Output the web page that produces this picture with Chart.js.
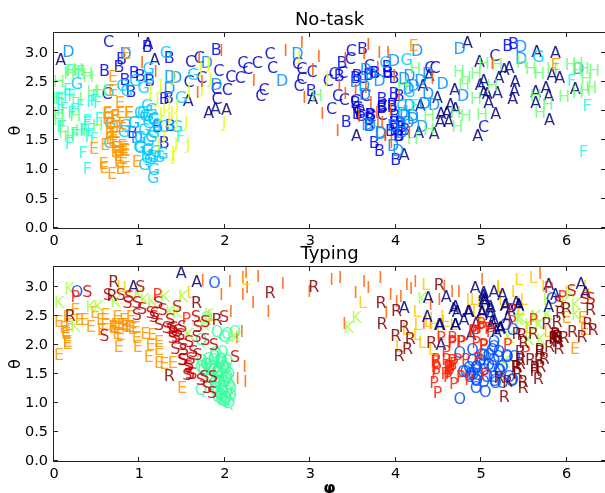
<!DOCTYPE html>
<html lang="en">
<head>
  <meta charset="UTF-8">
  <title>No-task / Typing</title>
  <script src="https://cdn.jsdelivr.net/npm/chart.js"></script>
  <style>
    html, body { margin: 0; padding: 0; background: #ffffff; overflow: hidden; }
    canvas { position: absolute; left: 0; }
    #noTaskChart { top: 0; }
    #typingChart { top: 240px; }
  </style>
</head>
<body>
<canvas id="noTaskChart" width="605" height="246"></canvas>
<canvas id="typingChart" width="605" height="258"></canvas>

<script>
  // tick labels
  const xTicks = [0, 1, 2, 3, 4, 5, 6];
  const yTicks = [0, 0.5, 1, 1.5, 2, 2.5, 3];

  // No-task: [phi, theta] per letter
  const noTaskA = [[.08,2.86],[1.10,3.14],[1.18,2.86],[1.57,2.16],[1.81,1.95],[1.89,2.03],[2.02,2.0],[3.03,2.2],[3.54,1.56],[4.1,1.23],[4.27,1.62],[4.45,1.59],[4.29,2.08],[4.32,2.41],[4.49,2.21],[4.53,1.93],[4.52,1.8],[4.6,1.96],[4.62,1.8],[4.64,2.1],[4.69,2.35],[4.7,2.02],[4.84,3.16],[4.96,1.56],[4.98,2.83],[4.99,2.43],[5.03,2.5],[5.03,2.3],[5.07,2.28],[5.09,2.12],[5.19,2.3],[5.17,1.93],[5.21,2.56],[5.27,2.69],[5.33,2.72],[5.37,2.19],[5.39,2.33],[5.4,2.48],[5.64,2.32],[5.64,2.12],[5.65,3.0],[5.76,2.39],[5.79,2.25],[5.8,1.84],[5.83,2.6],[5.87,2.98],[5.92,2.55],[6.1,2.36],[4.39,2.59]];
  const noTaskB = [[.59,2.68],[.76,2.75],[.79,2.88],[.83,2.52],[.9,2.31],[.94,2.64],[1.01,2.59],[1.12,2.51],[1.09,3.09],[1.35,2.89],[1.9,3.04],[1.34,2.22],[1.29,2.19],[1.36,1.74],[1.29,1.45],[1.21,1.71],[.92,1.62],[3.61,3.06],[3.37,2.82],[3.01,2.33],[3.42,1.8],[3.75,1.45],[3.81,1.3],[4.0,1.15],[3.53,2.56],[3.34,2.59],[3.75,2.64],[3.9,2.65],[3.98,2.56],[3.98,2.28],[3.84,2.2],[3.53,2.13],[3.55,1.93],[3.69,1.85],[3.69,1.74],[3.84,2.05],[3.96,2.05],[3.94,1.65],[4.04,1.56],[3.98,1.79],[4.07,1.71],[5.31,3.1],[5.38,3.14],[4.04,2.25],[3.9,2.74],[3.71,1.92],[3.99,1.9],[4.05,1.78],[3.99,1.66],[4.03,1.56],[4.11,1.66],[3.55,2.59],[3.68,2.6],[3.76,2.64],[3.91,2.64],[3.59,1.95],[3.7,1.92],[3.84,2.04],[3.96,2.09]];
  const noTaskC = [[.64,3.17],[1.6,2.83],[1.58,2.48],[1.7,2.9],[1.73,2.55],[1.93,2.68],[1.9,2.36],[2.03,2.35],[1.91,2.19],[2.07,2.57],[2.18,2.56],[2.21,2.82],[2.27,2.71],[2.38,2.82],[2.53,2.97],[2.56,2.72],[2.46,2.35],[2.42,2.25],[.62,2.28],[2.85,2.79],[2.87,2.42],[2.9,2.71],[2.9,2.53],[3.02,2.66],[3.21,2.51],[3.28,2.62],[3.38,2.64],[3.32,2.25],[3.4,2.18],[3.25,2.02],[3.48,3.02],[3.47,2.88],[3.69,2.76],[3.61,2.56],[3.65,2.25],[3.53,2.16],[3.57,1.99],[3.71,1.88],[3.84,2.08],[4.4,2.73],[4.46,2.73],[5.16,2.93],[5.03,1.72],[3.55,2.04],[3.59,1.9],[3.84,1.92]];
  const noTaskD = [[.17,3.0],[.84,2.96],[1.36,2.58],[1.43,2.56],[1.35,2.36],[1.79,2.81],[1.9,2.43],[2.67,2.51],[2.85,2.96],[.97,1.53],[4.25,3.02],[4.75,3.06],[5.47,3.08],[5.47,2.88],[6.14,2.71],[3.98,2.85],[3.65,2.69],[3.71,2.62],[3.81,2.51],[3.53,2.48],[3.63,2.41],[4.16,2.59],[4.1,2.53],[4.21,2.41],[4.29,2.51],[4.38,2.62],[4.55,2.45],[4.38,2.28],[4.34,2.11],[4.45,2.09],[4.79,2.24],[4.31,1.71],[3.83,1.59],[4.2,1.85],[4.03,1.31],[4.16,2.08],[4.08,1.93],[4.15,2.36],[4.15,1.78],[4.2,1.9],[4.11,1.9],[4.07,1.61],[3.97,1.73],[3.7,1.73],[3.82,1.61],[3.97,1.39],[3.67,1.75],[3.64,2.26]];
  const noTaskE = [[.69,2.58],[.85,2.96],[.69,2.33],[.77,2.13],[.62,1.93],[.72,1.91],[.88,1.96],[.66,1.76],[.72,1.62],[.66,1.51],[.6,1.4],[.72,1.28],[.8,1.39],[.84,1.31],[.58,1.08],[.68,.91],[.78,.99],[.84,1.02],[.97,1.11],[.47,1.34],[.76,1.11],[.59,1.02],[.8,1.76],[.62,1.85],[.72,1.45],[.76,1.22],[4.21,3.1],[5.87,2.77],[.63,1.95],[.71,1.89],[.69,1.69],[.77,1.72],[.65,1.61],[.71,1.61],[.73,1.35],[.81,1.35],[.83,1.32],[.75,1.27],[.81,1.16],[.88,1.95],[.78,1.95],[.69,1.47]];
  const noTaskF = [[.39,.99],[.34,1.27],[.18,1.43],[.1,1.72],[.08,1.99],[.06,2.19],[.21,1.96],[.16,2.35],[.31,2.08],[.35,1.65],[.25,1.56],[.41,1.54],[.47,2.16],[.21,2.25],[.18,2.68],[.31,2.65],[1.48,1.54],[.47,1.51],[.12,2.02],[.39,1.82],[.53,1.85],[6.24,2.08],[6.2,1.28],[6.06,2.51],[4.22,2.07],[.08,1.72],[.24,1.6],[.35,1.66],[.43,1.66],[.49,2.24],[.39,1.78],[.08,2.18],[.16,2.24],[.24,2.01],[.43,2.15],[.51,2.12]];
  const noTaskG = [[1.31,2.98],[.27,2.45],[.64,2.33],[.8,2.41],[.85,2.33],[1.11,2.71],[1.11,2.53],[.95,2.51],[1.05,2.39],[1.49,2.21],[1.63,2.6],[1.01,1.96],[1.09,2.08],[1.07,1.91],[.66,1.76],[.84,1.74],[.82,1.63],[.94,1.79],[1.11,1.79],[1.17,1.85],[1.21,1.74],[1.01,1.53],[1.11,1.48],[.65,1.44],[1.01,1.36],[1.09,1.31],[1.19,1.28],[1.13,1.16],[1.06,1.06],[1.17,.98],[1.16,.84],[1.29,1.71],[1.44,1.72],[1.27,1.25],[1.09,1.18],[1.17,1.62],[4.13,2.87],[3.88,2.82],[5.67,2.92],[4.16,2.31],[4.08,2.08],[1.04,1.95],[1.1,1.9],[1.16,1.84],[1.06,1.66],[1.14,1.55],[1.1,1.32],[1.16,1.21],[1.23,1.21],[1.0,1.38],[.94,1.78],[1.14,2.01]];
  const noTaskH = [[.21,2.68],[.29,2.68],[.06,2.48],[.4,2.58],[.05,2.19],[.06,1.93],[.25,1.91],[.31,1.65],[.12,1.62],[.27,2.19],[.51,1.74],[.55,2.33],[.45,2.31],[4.23,2.71],[4.74,2.66],[4.82,2.56],[4.94,2.62],[5.03,2.79],[5.19,2.77],[4.8,2.43],[4.94,2.19],[4.82,1.91],[4.72,1.71],[5.01,1.92],[5.13,2.42],[5.48,2.82],[5.58,2.71],[5.68,2.62],[5.64,2.25],[5.78,2.09],[5.69,1.96],[5.97,2.23],[5.83,2.71],[6.05,2.77],[6.13,2.79],[6.13,2.68],[6.2,2.71],[6.32,2.68],[6.23,2.53],[6.29,2.39],[6.22,2.33],[6.13,2.29],[4.39,1.91],[4.39,1.67],[4.2,1.51],[3.08,2.25],[4.08,2.42],[4.7,1.96],[.18,2.63],[.28,2.69],[.39,2.63],[.06,1.84],[.18,1.55]];
  const noTaskI = [[1.03,2.81],[1.96,3.02],[1.73,2.48],[1.68,2.29],[2.34,2.51],[2.71,3.02],[2.9,3.16],[1.19,2.65],[1.7,2.9],[3.1,2.92],[3.03,2.7],[2.93,2.22],[3.14,1.93],[3.32,1.65],[3.34,2.42],[3.41,2.88],[3.63,2.96],[3.68,3.12],[3.81,2.98],[3.91,2.98],[3.79,2.73],[3.53,2.33],[3.71,2.13],[3.57,1.88],[3.79,1.79],[3.88,1.56],[3.95,1.45],[4.04,2.25],[3.98,2.59],[3.41,2.28],[3.65,2.39],[4.43,2.53],[5.13,2.79],[4.16,1.62],[3.78,1.95],[3.84,1.78],[3.94,2.0],[3.88,1.56]];
  const noTaskJ = [[1.99,1.78],[1.55,1.78],[1.57,1.4],[1.43,1.42],[1.4,1.22],[1.44,1.82],[1.35,2.13],[1.29,2.02],[1.38,1.96],[1.25,2.42],[1.21,2.19],[1.13,2.31],[1.25,1.93],[1.4,2.58],[1.81,2.79],[1.83,2.53],[1.72,2.71],[1.58,2.31],[1.35,1.85],[1.44,2.08],[1.23,1.45],[1.29,1.56],[1.73,2.36],[2.87,2.94],[3.2,2.56],[1.39,1.27]];

  // Typing: [phi, theta] per letter
  const typingA = [[1.49,3.23],[1.67,3.06],[.93,2.98],[4.1,2.62],[4.38,2.79],[4.37,2.47],[4.51,2.33],[4.53,1.98],[4.59,2.81],[4.7,2.64],[4.72,2.55],[4.7,2.33],[4.8,2.41],[4.86,2.55],[4.88,2.15],[4.93,2.96],[5.03,2.87],[5.04,2.78],[5.15,2.9],[5.25,2.85],[5.01,2.53],[5.11,2.64],[5.11,2.5],[5.13,2.38],[5.23,2.27],[5.29,2.67],[5.31,2.44],[5.41,2.7],[5.44,2.67],[5.79,3.02],[5.87,2.84],[5.79,2.64],[6.17,3.04],[6.22,2.87],[4.94,2.35],[5.03,2.72],[4.68,2.6],[4.85,2.55],[5.03,2.83],[5.05,2.72],[5.01,2.55],[5.11,2.58],[5.16,2.37],[5.22,2.26],[5.28,2.66],[5.34,2.58],[5.44,2.66],[4.7,2.32],[4.52,2.32],[5.12,2.29],[5.18,2.2]];
  const typingO = [[.27,2.89],[1.88,3.05],[4.75,1.05],[4.75,1.84],[4.94,1.24],[5.05,1.18],[5.25,1.32],[5.37,1.38],[5.37,2.24],[5.83,2.78],[5.29,2.33],[4.9,1.9],[5.15,1.95],[5.21,1.87],[5.31,1.78],[5.39,1.78],[5.09,1.81],[4.99,1.7],[4.9,1.7],[4.94,1.58],[4.82,1.52],[4.88,1.49],[4.96,1.47],[5.03,1.55],[5.09,1.64],[5.21,1.55],[5.33,1.44],[5.15,1.44],[5.03,1.35],[4.94,1.38],[5.15,1.72],[5.25,1.61],[5.01,1.81],[5.15,2.04],[4.86,1.58],[5.17,1.32],[4.95,1.6],[5.03,1.66],[5.13,1.89],[5.2,1.77],[5.3,1.8],[5.07,1.43],[5.16,1.37],[4.87,1.43],[5.03,1.8],[5.13,1.6],[5.22,1.54],[4.91,1.49],[4.95,1.37],[4.79,1.52],[5.36,1.37]];
  const typingQ = [[1.72,1.21],[1.79,2.44],[1.91,2.2],[2.03,2.18],[2.12,2.2],[2.0,2.12],[1.72,2.07],[1.73,1.7],[1.81,1.75],[1.89,1.84],[1.97,1.87],[1.87,1.72],[1.79,1.64],[1.93,1.67],[2.03,1.7],[2.01,1.58],[1.75,1.55],[1.83,1.55],[1.91,1.52],[1.97,1.47],[2.05,1.49],[1.89,1.35],[1.99,1.35],[2.07,1.24],[1.97,1.24],[1.89,1.24],[2.03,1.18],[1.95,1.12],[2.01,1.07],[2.05,.98],[1.99,1.01],[2.05,1.29],[1.87,1.55],[1.95,1.75],[1.83,1.41],[1.91,1.18],[2.07,1.12],[1.72,1.61],[1.98,1.61],[1.93,1.41],[2.01,1.41],[1.84,1.6],[1.92,1.54],[1.99,1.6],[1.78,1.66],[1.88,1.77],[1.96,1.72],[2.03,1.43],[1.97,1.2],[1.96,1.03],[2.01,1.06],[1.92,1.09],[1.88,1.32],[1.94,1.32]];
  const typingK = [[.06,2.71],[.18,2.94],[.25,2.3],[.43,2.64],[.52,2.64],[.72,2.73],[.99,2.84],[1.06,2.75],[1.15,2.73],[1.3,2.81],[1.51,2.81],[1.36,2.55],[1.44,2.53],[1.58,2.15],[1.76,2.33],[1.81,2.5],[2.12,2.12],[3.45,2.28],[3.54,2.44],[4.31,2.78],[5.28,1.67],[5.33,2.1],[5.46,2.44],[5.64,2.47],[5.68,2.33],[5.56,2.07],[5.7,2.07],[5.78,2.5],[5.78,2.75],[6.03,2.9],[6.11,2.67],[6.11,2.5],[5.99,2.73],[5.56,2.33],[5.44,2.41]];
  const typingL = [[.78,2.98],[.85,2.96],[1.6,2.87],[1.84,2.49],[2.24,3.1],[3.61,2.71],[4.04,1.95],[4.12,2.24],[4.25,2.55],[4.25,2.15],[4.31,2.01],[4.26,2.33],[4.35,3.01],[4.43,1.9],[4.52,2.15],[4.57,2.47],[4.92,2.75],[5.23,2.96],[5.4,2.9],[5.44,3.1],[5.61,3.14],[5.01,2.67],[4.94,2.55],[5.5,2.75],[5.56,2.27],[5.78,2.21],[5.75,2.98],[6.24,2.98],[6.28,2.84],[5.25,2.75],[5.03,1.87],[4.68,2.33],[5.0,2.73],[5.62,2.47],[4.87,2.75],[5.01,2.46],[5.22,2.98],[5.46,2.58],[4.38,2.37],[4.44,2.43],[4.58,2.37]];
  const typingE = [[.06,1.81],[.06,2.38],[.16,2.04],[.18,2.33],[.14,2.2],[.25,2.58],[.3,2.41],[.36,2.41],[.43,2.3],[.48,2.53],[.55,2.41],[.6,2.5],[.6,2.33],[.56,2.24],[.72,2.33],[.74,2.47],[.82,2.41],[.9,2.47],[.89,2.3],[.96,2.27],[.78,2.15],[.76,1.95],[.97,2.1],[.98,1.95],[1.07,2.18],[1.15,2.15],[1.13,1.98],[1.23,2.04],[1.23,1.9],[1.11,1.78],[1.23,1.67],[1.29,1.65],[1.39,1.67],[1.5,1.24],[.74,2.18],[.84,2.3],[.16,2.47],[.12,2.27],[.7,2.27],[6.1,1.91],[6.0,2.44],[6.19,2.44],[6.21,2.24],[.79,2.32],[.84,2.32],[.88,2.29],[.92,2.26],[.75,2.26],[.69,2.29],[.16,2.0],[.14,2.17]];
  const typingI = [[1.74,3.08],[2.06,3.07],[1.96,2.84],[2.07,2.55],[2.25,3.23],[2.21,3.13],[2.39,3.16],[2.26,2.96],[2.21,2.84],[2.33,2.7],[2.51,2.55],[2.68,3.04],[2.2,2.21],[2.23,1.6],[2.15,1.39],[2.24,1.35],[2.14,2.1],[2.99,2.9],[3.25,3.1],[3.35,3.14],[3.53,2.88],[3.63,3.07],[3.68,2.97],[3.82,3.14],[3.94,2.84],[4.01,2.73],[4.06,2.81],[4.13,3.01],[4.18,2.94],[4.23,3.07],[3.89,2.53],[3.4,2.34],[4.33,2.35],[4.41,2.35],[4.41,2.67],[4.51,2.75],[4.66,2.9],[4.74,2.9],[5.01,3.1],[5.69,3.21],[4.57,2.98]];
  const typingP = [[.25,2.81],[1.21,2.84],[1.55,2.43],[4.45,1.32],[4.49,1.15],[4.68,1.31],[4.47,1.72],[4.47,1.61],[4.47,1.49],[4.59,1.72],[4.61,1.58],[4.63,1.49],[4.66,1.7],[4.72,1.72],[4.61,1.44],[4.59,1.87],[4.53,2.1],[4.66,2.01],[4.76,2.04],[4.86,1.38],[4.76,1.44],[4.82,1.72],[4.96,1.75],[5.04,1.47],[4.94,2.18],[5.01,2.27],[5.0,2.35],[5.03,1.98],[4.9,2.2],[5.11,2.21],[4.94,2.01],[5.31,1.98],[5.36,2.58],[5.36,2.38],[5.61,2.41],[5.52,1.87],[5.79,2.96],[5.95,2.81],[4.66,2.1],[4.64,1.61],[4.66,1.55],[4.62,1.6],[4.64,1.54],[4.58,1.49],[4.68,1.66],[4.46,1.69],[4.48,1.57],[4.66,2.03],[4.77,2.03],[4.91,2.23],[4.99,2.26],[5.09,2.26],[5.03,1.97]];
  const typingS = [[.39,2.89],[.59,2.14],[.63,2.84],[.78,2.84],[.88,2.81],[1.01,2.98],[.86,2.7],[.97,2.7],[1.03,2.61],[.97,2.5],[1.13,2.53],[1.17,2.47],[1.22,2.7],[1.27,2.58],[1.23,2.33],[1.32,2.27],[1.36,2.41],[1.4,2.27],[1.39,2.1],[1.44,2.64],[1.5,2.3],[1.48,2.15],[1.42,1.92],[1.5,1.98],[1.52,1.9],[1.5,1.72],[1.6,1.75],[1.63,1.87],[1.68,1.81],[1.58,1.64],[1.62,1.49],[1.56,1.47],[1.66,2.47],[1.68,2.3],[1.67,2.12],[1.77,2.07],[1.77,2.38],[1.58,2.04],[1.87,1.99],[1.99,2.47],[2.12,1.77],[1.72,1.38],[1.76,1.44],[1.86,1.43],[1.79,1.24],[1.85,1.15],[6.06,2.91],[6.21,2.78],[6.28,2.78],[5.91,2.73],[1.39,2.2],[1.43,2.12],[1.37,2.26],[1.45,2.23],[1.51,1.72],[1.57,1.6],[1.59,1.49],[1.18,2.52]];
  const typingR = [[.19,2.49],[.7,3.06],[.68,2.82],[1.67,2.7],[1.91,2.41],[1.35,1.45],[2.53,2.87],[3.04,2.98],[3.83,2.71],[3.84,2.35],[4.01,2.57],[4.1,2.3],[4.0,2.14],[4.17,2.08],[4.14,1.91],[4.04,1.79],[4.42,2.01],[4.51,3.02],[5.27,1.09],[5.21,1.41],[5.31,1.35],[5.41,1.61],[5.43,1.49],[5.46,1.72],[5.46,1.87],[5.48,2.15],[5.5,2.01],[5.61,2.18],[5.49,1.35],[5.49,1.24],[5.58,1.72],[5.63,1.58],[5.68,1.72],[5.69,1.87],[5.7,1.61],[5.74,1.75],[5.67,1.4],[5.77,2.35],[5.89,2.38],[5.8,1.95],[5.91,1.92],[5.87,2.18],[5.89,2.12],[5.91,2.04],[5.97,2.11],[5.93,2.53],[6.0,2.61],[6.07,2.21],[6.18,2.12],[6.25,2.35],[6.31,2.24],[6.28,2.58],[5.42,2.18],[5.85,2.1],[5.87,2.15],[5.9,2.12],[5.85,2.09],[5.89,2.03],[5.63,1.54],[5.46,1.66],[5.69,1.89],[5.42,1.6]];

  // draws each point as its letter, at the position the scales gave it
  const letterPlugin = {
    id: 'letters',
    afterDatasetsDraw(chart) {
      const ctx = chart.ctx;
      ctx.save();
      ctx.font = '16px "DejaVu Sans"';
      ctx.textAlign = 'center';
      ctx.textBaseline = 'middle';
      chart.data.datasets.forEach((ds, i) => {
        ctx.fillStyle = ds.letterColor;
        chart.getDatasetMeta(i).data.forEach(pt => ctx.fillText(ds.label, pt.x, pt.y));
      });
      ctx.restore();
    }
  };

  // matplotlib style box with ticks pointing inward on all sides
  const framePlugin = {
    id: 'frame',
    afterDraw(chart) {
      const { ctx, chartArea: a, scales } = chart;
      ctx.save();
      ctx.strokeStyle = '#222';
      ctx.lineWidth = 1;
      ctx.strokeRect(Math.round(a.left) - 0.5, Math.round(a.top) - 0.5, a.width + 10, Math.round(a.height) + 1);
      ctx.beginPath();
      xTicks.forEach(v => {
        const x = Math.round(scales.x.getPixelForValue(v)) - 0.5;
        ctx.moveTo(x, a.top); ctx.lineTo(x, a.top + 4);
        ctx.moveTo(x, a.bottom); ctx.lineTo(x, a.bottom - 4);
      });
      yTicks.forEach(v => {
        const y = Math.round(scales.y.getPixelForValue(v)) - 0.5;
        ctx.moveTo(a.left, y); ctx.lineTo(a.left + 4, y);
        ctx.moveTo(a.right, y); ctx.lineTo(a.right - 4, y);
      });
      ctx.stroke();
      ctx.restore();
    }
  };

  function letterSet(label, points, color) {
    return { label, letterColor: color, data: points.map(p => ({ x: p[0], y: p[1] })), pointRadius: 0 };
  }

  function makeChart(id, titleText, titlePadding, datasets, xHeight, xLabel) {
    return new Chart(document.getElementById(id), {
      type: 'scatter',
      data: { datasets },
      plugins: [letterPlugin, framePlugin],
      options: {
        responsive: false,
        animation: false,
        layout: { padding: 0 },
        plugins: {
          legend: { display: false },
          tooltip: { enabled: false },
          title: {
            display: true,
            text: titleText,
            fullSize: false,
            color: '#000',
            padding: titlePadding,
            font: { family: 'DejaVu Sans', size: 18, weight: 'normal' }
          }
        },
        scales: {
          x: {
            min: 0,
            max: 6.45,
            afterFit: s => { s.height = xHeight; },
            border: { display: false },
            grid: { display: false, drawTicks: false },
            title: { display: xLabel, text: 'φ', color: '#000', padding: { top: 0, bottom: 0 }, font: { family: 'DejaVu Sans', size: 16, weight: 'bold' } },
            ticks: { stepSize: 1, includeBounds: false, maxRotation: 0, padding: 5, color: '#000', font: { family: 'DejaVu Sans', size: 14.5 }, callback: v => xTicks.includes(v) ? String(v) : '' }
          },
          y: {
            min: 0,
            max: 3.34,
            afterFit: s => { s.width = 54; },
            border: { display: false },
            grid: { display: false, drawTicks: false },
            title: { display: true, text: 'θ', color: '#000', padding: { top: 6, bottom: 0 }, font: { family: 'DejaVu Sans', size: 16 } },
            ticks: { stepSize: 0.5, includeBounds: false, padding: 6, color: '#000', font: { family: 'DejaVu Sans', size: 14.5 }, callback: v => v.toFixed(1) }
          }
        }
      }
    });
  }

  makeChart('noTaskChart', 'No-task', { top: 10, bottom: 1.4 }, [
    letterSet('A', noTaskA, 'rgba(0,0,127,0.85)'),
    letterSet('B', noTaskB, 'rgba(0,0,241,0.85)'),
    letterSet('C', noTaskC, 'rgba(0,0,200,0.85)'),
    letterSet('D', noTaskD, 'rgba(0,140,255,0.85)'),
    letterSet('G', noTaskG, 'rgba(0,200,255,0.85)'),
    letterSet('F', noTaskF, 'rgba(30,255,220,0.85)'),
    letterSet('H', noTaskH, 'rgba(110,255,120,0.85)'),
    letterSet('J', noTaskJ, 'rgba(225,255,20,0.85)'),
    letterSet('E', noTaskE, 'rgba(255,150,0,0.85)'),
    letterSet('I', noTaskI, 'rgba(255,85,0,0.85)')
  ], 18, false);

  makeChart('typingChart', 'Typing', { top: 3.2, bottom: 2.2 }, [
    letterSet('Q', typingQ, 'rgba(60,255,160,0.85)'),
    letterSet('E', typingE, 'rgba(255,150,0,0.85)'),
    letterSet('I', typingI, 'rgba(255,100,10,0.85)'),
    letterSet('L', typingL, 'rgba(255,200,0,0.85)'),
    letterSet('K', typingK, 'rgba(170,255,70,0.85)'),
    letterSet('O', typingO, 'rgba(0,80,255,0.85)'),
    letterSet('A', typingA, 'rgba(0,0,127,0.85)'),
    letterSet('P', typingP, 'rgba(255,30,0,0.85)'),
    letterSet('S', typingS, 'rgba(190,0,0,0.85)'),
    letterSet('R', typingR, 'rgba(127,0,0,0.85)')
  ], 37, true);
</script>
</body>
</html>
